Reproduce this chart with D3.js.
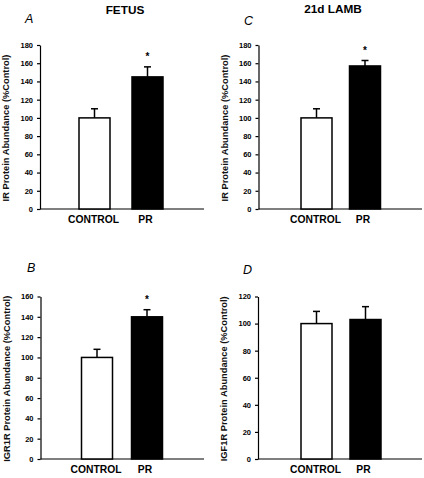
<!DOCTYPE html>
<html><head><meta charset="utf-8">
<script src="https://cdn.jsdelivr.net/npm/d3@7"></script>
<style>body{margin:0;background:#fff}svg{display:block}text{font-family:"Liberation Sans",Arial,sans-serif}</style>
</head><body>
<svg id="c" width="424" height="478"></svg>
<script>
const categories = ["CONTROL", "PR"];
const panelLetters = ["A", "C", "B", "D"];
const columnTitles = ["FETUS", "21d LAMB"];
const yLabels = ["IR Protein Abundance (%Control)", "IR Protein Abundance (%Control)", "IGR1R Protein Abundance (%Control)", "IGF1R Protein Abundance (%Control)"];
const meanA = [100, 145], errA = [10, 11];
const meanC = [100, 157], errC = [10, 6];
const meanB = [100, 140], errB = [8, 7];
const meanD = [100, 103], errD = [9, 9.5];
const yMax = [180, 180, 160, 120];
const yStep = [20, 20, 20, 20];
const signif = [[false, true], [false, true], [false, true], [false, false]];

const svg = d3.select("#c");
const layout = [
  {ox: 40, top: 45, bottom: 209, right: 204, bx: [79, 132], title: 0, lx: 25, ly: 23, tx: 125, ty: 13.5},
  {ox: 258.5, top: 45, bottom: 209, right: 422, bx: [301, 349.5], title: 1, lx: 244, ly: 25, tx: 333, ty: 12.5},
  {ox: 40.5, top: 296.5, bottom: 459, right: 204, bx: [81.5, 131.5], title: null, lx: 27, ly: 272},
  {ox: 258, top: 296.5, bottom: 459, right: 422, bx: [301, 350], title: null, lx: 243, ly: 274}
];
const means = [meanA, meanC, meanB, meanD];
const errs = [errA, errC, errB, errD];

layout.forEach((L, i) => {
  const g = svg.append("g");
  const y = d3.scaleLinear().domain([0, yMax[i]]).range([L.bottom, L.top]);
  const bw = 31;
  const x = d3.scaleOrdinal().domain(categories).range(L.bx);
  const ticks = d3.range(0, yMax[i] + 0.1, yStep[i]);
  const ax = g.append("g").attr("transform", `translate(${L.ox},0)`)
    .call(d3.axisLeft(y).tickValues(ticks).tickSize(3).tickPadding(4).tickSizeOuter(0));
  ax.select(".domain").attr("stroke", "#000").attr("stroke-width", 1.2);
  ax.selectAll(".tick line").attr("stroke-width", 1.2);
  ax.selectAll(".tick text").attr("font-size", 7.5).attr("font-weight", "bold")
    .attr("font-family", "'Liberation Sans',Arial,sans-serif").attr("fill", "#000");
  g.append("line").attr("x1", L.ox).attr("x2", L.right).attr("y1", L.bottom).attr("y2", L.bottom)
    .attr("stroke", "#000").attr("stroke-width", 1.2);
  const m = means[i], e = errs[i];
  categories.forEach((c, j) => {
    const x0 = x(c);
    const cx = x0 + bw / 2;
    g.append("line").attr("x1", cx).attr("x2", cx).attr("y1", y(m[j])).attr("y2", y(m[j] + e[j]))
      .attr("stroke", "#000").attr("stroke-width", 1.5);
    g.append("line").attr("x1", cx - 3.5).attr("x2", cx + 3.5).attr("y1", y(m[j] + e[j])).attr("y2", y(m[j] + e[j]))
      .attr("stroke", "#000").attr("stroke-width", 1.5);
    g.append("rect").attr("x", x0).attr("y", y(m[j])).attr("width", bw).attr("height", L.bottom - y(m[j]))
      .attr("fill", j === 0 ? "#fff" : "#000").attr("stroke", "#000").attr("stroke-width", 1.5);
    if (signif[i][j]) {
      g.append("text").attr("x", cx).attr("y", y(m[j] + e[j]) - 6.5).attr("text-anchor", "middle")
        .attr("font-size", 10).attr("font-weight", "bold").text("*");
    }
    g.append("text").attr("x", cx - (j === 1 ? 2 : 1)).attr("y", L.bottom + 14).attr("text-anchor", "middle")
      .attr("font-size", 10.3).attr("font-weight", "bold").text(c);
  });
  const cy = (L.top + L.bottom) / 2 + 1;
  g.append("text").attr("transform", `translate(${L.ox - 31},${cy}) rotate(-90)`)
    .attr("text-anchor", "middle").attr("font-size", 9.3).attr("font-weight", "bold").attr("fill", "#111").text(yLabels[i]);
  g.append("text").attr("x", L.lx).attr("y", L.ly).attr("font-size", 12.5)
    .attr("font-style", "italic").text(panelLetters[i]);
  if (L.title !== null) {
    g.append("text").attr("x", L.tx).attr("y", L.ty).attr("text-anchor", "middle")
      .attr("font-size", 11.8).attr("font-weight", "bold").text(columnTitles[L.title]);
  }
});
</script>
</body></html>
